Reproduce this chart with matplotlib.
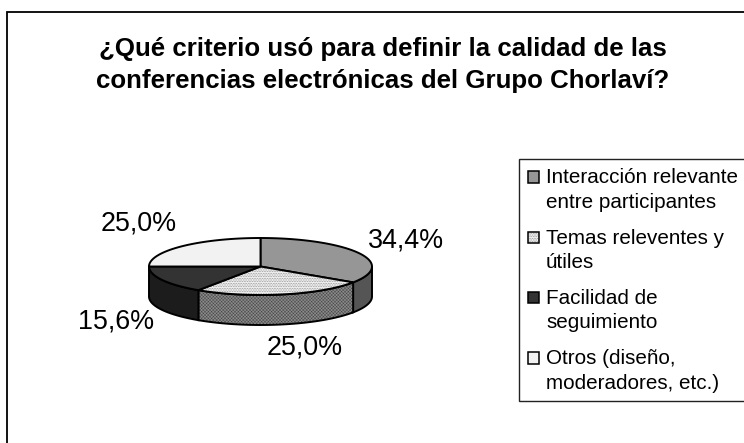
import numpy as np
import matplotlib
matplotlib.use('Agg')
import matplotlib.pyplot as plt

categories = ['Interacción relevante\nentre participantes', 'Temas releventes y\nútiles',
              'Facilidad de\nseguimiento', 'Otros (diseño,\nmoderadores, etc.)']
values = [34.4, 25.0, 15.6, 25.0]
value_labels = ['34,4%', '25,0%', '15,6%', '25,0%']
title = '¿Qué criterio usó para definir la calidad de las\nconferencias electrónicas del Grupo Chorlaví?'

W, H = 744, 443
CX, CY = 260.5, 266.5
RX, RY = 111.5, 28.5
DEPTH = 30
top_colors = ['#969696', '#f0f0f0', '#333333', '#f2f2f2']
side_colors = ['#555555', '#8c8c8c', '#1c1c1c', '#f2f2f2']
top_hatch = [None, '..........', None, None]
side_hatch = [None, 'xxxxxxxxxx', None, None]
top_hatch_color = '#777777'
side_hatch_color = '#4a4a4a'
label_pos = [(406, 240), (304.5, 347), (116.5, 321), (138.5, 223)]

plt.rcParams['font.family'] = ['Liberation Sans', 'DejaVu Sans']
plt.rcParams['hatch.linewidth'] = 0.35

fig = plt.figure(figsize=(W / 100, H / 100), dpi=100, facecolor='white')
ax = fig.add_axes([0, 0, 1, 1])
ax.set_xlim(0, W)
ax.set_ylim(H, 0)
ax.axis('off')


def rim(a, dy=0):
    # a is degrees clockwise from the top of the pie
    r = np.radians(a)
    return CX + RX * np.sin(r), CY - RY * np.cos(r) + dy


def face(x, y, fc, hatch, hatch_color, z):
    # hatch first so it can have its own colour, outline goes on top
    ax.fill(x, y, fc=fc, ec=hatch_color, lw=0, hatch=hatch, zorder=z)
    ax.fill(x, y, fc='none', ec='black', lw=1.4, zorder=z)


# chart frame runs off the right and bottom of the image
ax.add_patch(plt.Rectangle((6.5, 11.5), W, H, fc='white', ec='black', lw=1.3))

edges = np.concatenate([[0], np.cumsum(values)]) / sum(values) * 360

# side walls, only the front half of the rim shows
for i in range(len(values)):
    a0, a1 = max(edges[i], 90), min(edges[i + 1], 270)
    if a1 <= a0:
        continue
    a = np.linspace(a0, a1, 80)
    x, y = rim(a)
    x2, y2 = rim(a[::-1], DEPTH)
    face(np.r_[x, x2], np.r_[y, y2], side_colors[i], side_hatch[i], side_hatch_color, 2)

# top faces
for i in range(len(values)):
    a = np.linspace(edges[i], edges[i + 1], 120)
    x, y = rim(a)
    face(np.r_[CX, x], np.r_[CY, y], top_colors[i], top_hatch[i], top_hatch_color, 3)

for (lx, ly), s in zip(label_pos, value_labels):
    ax.text(lx, ly, s, fontsize=19.4, ha='center', va='center', zorder=4)

ax.text(383, 65, title, fontsize=18.6, fontweight='bold', ha='center', va='center',
        linespacing=1.47)

# legend box, right side is cut by the image edge
ax.add_patch(plt.Rectangle((518.5, 158.5), W, 242, fc='white', ec='#222222', lw=1, zorder=4))
legend_y = [190, 250.5, 310.5, 371]
for y, s, fc, h in zip(legend_y, categories, top_colors, top_hatch):
    ax.add_patch(plt.Rectangle((527.5, y - 19), 11, 11.5, fc=fc, ec=top_hatch_color, lw=0,
                               hatch=h, zorder=5))
    ax.add_patch(plt.Rectangle((527.5, y - 19), 11, 11.5, fc='none', ec='black', lw=1.1, zorder=5))
    ax.text(546, y, s, fontsize=14.9, ha='left', va='center', linespacing=1.36, zorder=5)

fig.savefig('out.png', dpi=100, facecolor='white')
